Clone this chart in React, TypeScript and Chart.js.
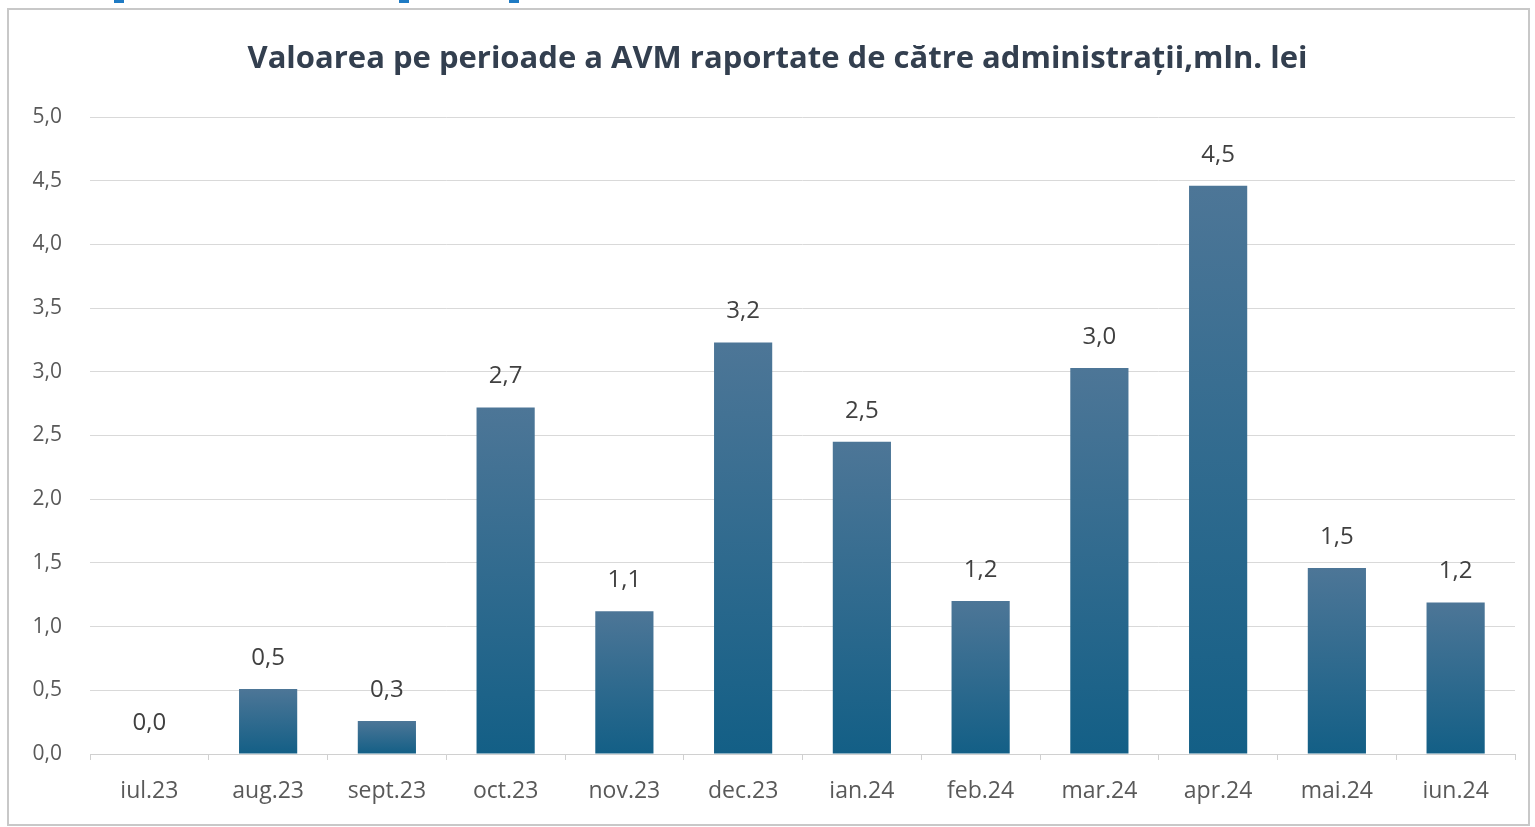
import React, { useEffect, useRef } from "react";
import { Chart, registerables } from "chart.js";

Chart.register(...registerables);

const TITLE = "Valoarea pe perioade a AVM raportate de către administrații,mln. lei";
const categories = ["iul.23", "aug.23", "sept.23", "oct.23", "nov.23", "dec.23", "ian.24", "feb.24", "mar.24", "apr.24", "mai.24", "iun.24"];
const values = [0.0, 0.51, 0.26, 2.72, 1.12, 3.23, 2.45, 1.2, 3.03, 4.46, 1.46, 1.19];
const yTicks = [0, 0.5, 1, 1.5, 2, 2.5, 3, 3.5, 4, 4.5, 5];

const fmt = (v: number) => v.toFixed(1).replace(".", ",");

const FONT = "'Open Sans', 'Noto Sans', sans-serif";

const dataLabels = {
  id: "dataLabels",
  afterDatasetsDraw(chart: any) {
    const ctx = chart.ctx;
    const meta = chart.getDatasetMeta(0);
    ctx.save();
    ctx.font = `24px ${FONT}`;
    ctx.fillStyle = "#404040";
    ctx.textAlign = "center";
    ctx.textBaseline = "middle";
    meta.data.forEach((el: any, i: number) => {
      ctx.fillText(fmt(values[i]), el.x, el.y - 31);
    });
    ctx.restore();
  },
};

export default function App() {
  const ref = useRef<HTMLCanvasElement | null>(null);
  useEffect(() => {
    document.body.style.margin = "0";
    const canvas = ref.current!;
    const chart = new Chart(canvas, {
      type: "bar",
      data: {
        labels: categories,
        datasets: [
          {
            data: values,
            categoryPercentage: 1,
            barPercentage: 0.49,
            backgroundColor: (c: any) => {
              const ch = c.chart;
              const y = ch.scales && ch.scales.y;
              if (!y || c.dataIndex === undefined) return "#1f6389";
              const top = y.getPixelForValue(values[c.dataIndex]);
              const bottom = y.getPixelForValue(0);
              if (!isFinite(top) || !isFinite(bottom) || bottom - top < 1) return "#1f6389";
              const g = ch.ctx.createLinearGradient(0, top, 0, bottom);
              g.addColorStop(0, "#4d7697");
              g.addColorStop(1, "#135f86");
              return g;
            },
          },
        ],
      },
      options: {
        animation: false,
        responsive: false,
        maintainAspectRatio: false,
        layout: { padding: { left: 0, right: 20, top: 117, bottom: 0 } },
        plugins: {
          legend: { display: false },
          tooltip: { enabled: false },
          title: { display: false },
        },
        scales: {
          x: {
            grid: {
              display: true,
              offset: true,
              drawOnChartArea: false,
              drawTicks: true,
              tickLength: 6,
              color: "#d0d0d0",
            },
            border: { display: true, color: "#d0d0d0", width: 1 },
            ticks: {
              color: "#595959",
              font: { family: FONT, size: 23 },
              padding: 18,
              maxRotation: 0,
              autoSkip: false,
            },
            afterFit: (s: any) => {
              s.height = 73;
            },
          },
          y: {
            min: 0,
            max: 5,
            afterBuildTicks: (s: any) => {
              s.ticks = yTicks.map((v) => ({ value: v }));
            },
            grid: { color: "#d9d9d9", drawTicks: false, lineWidth: 1 },
            border: { display: false },
            ticks: {
              color: "#595959",
              font: { family: FONT, size: 21 },
              padding: 28,
              callback: (v: any) => fmt(Number(v)),
            },
            afterFit: (s: any) => {
              s.width = 90;
            },
          },
        },
      },
      plugins: [dataLabels],
    });
    return () => chart.destroy();
  }, []);

  return (
    <div style={{ position: "relative", width: 1535, height: 827, background: "#ffffff", overflow: "hidden" }}>
      <canvas ref={ref} width={1535} height={827} style={{ position: "absolute", left: 0, top: 0, width: 1535, height: 827 }} />
      <div
        style={{
          position: "absolute",
          left: 0,
          top: 38,
          width: 1555,
          height: 37,
          lineHeight: "37px",
          textAlign: "center",
          fontFamily: FONT,
          fontSize: 31,
          fontWeight: "bold",
          color: "#333f4f",
          whiteSpace: "nowrap",
        }}
      >
        {TITLE}
      </div>
      <div
        style={{
          position: "absolute",
          left: 7,
          top: 8,
          width: 1523,
          height: 818,
          border: "2px solid #c8c8c8",
          boxSizing: "border-box",
          pointerEvents: "none",
        }}
      />
      <div style={{ position: "absolute", left: 114, top: 0, width: 10, height: 3, background: "#1f7bc4" }} />
      <div style={{ position: "absolute", left: 399, top: 0, width: 10, height: 3, background: "#1f7bc4" }} />
      <div style={{ position: "absolute", left: 509, top: 0, width: 10, height: 3, background: "#1f7bc4" }} />
    </div>
  );
}
